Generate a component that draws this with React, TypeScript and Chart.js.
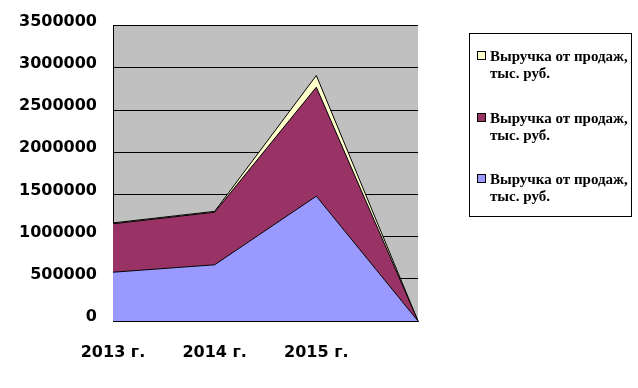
import React, { useEffect, useRef } from 'react';
import { Chart, registerables } from 'chart.js';

Chart.register(...registerables);

const categories = ['2013 г.', '2014 г.', '2015 г.', ''];
const seriesBottom = [578000, 666000, 1479000, 0];
const seriesMiddle = [574000, 623000, 1291000, 0];
const seriesTop = [10000, 10000, 139000, 0];
const seriesNames = ['Выручка от продаж, тыс. руб.', 'Выручка от продаж, тыс. руб.', 'Выручка от продаж, тыс. руб.'];
const legendLines = ['Выручка от продаж,', 'тыс. руб.'];
const yMin = 0;
const yMax = 3500000;
const yStep = 500000;

const COLORS = ['#9999FF', '#993366', '#FFFFCC'];

const bgPlugin = {
  id: 'plotBg',
  beforeDraw(chart: any) {
    const { ctx, chartArea } = chart;
    ctx.save();
    ctx.fillStyle = '#C0C0C0';
    ctx.fillRect(chartArea.left, chartArea.top, chartArea.right - chartArea.left, chartArea.bottom - chartArea.top);
    ctx.restore();
  },
};

const legendPlugin = {
  id: 'boxLegend',
  afterDraw(chart: any) {
    const ctx = chart.ctx;
    ctx.save();
    ctx.strokeStyle = '#000';
    ctx.lineWidth = 1;
    ctx.strokeRect(469.5, 33.5, 162, 183);
    const items = chart.data.datasets.slice().reverse();
    items.forEach((ds: any, i: number) => {
      const base = Math.round(61 + i * 61.5);
      ctx.fillStyle = ds.backgroundColor;
      ctx.fillRect(477.5, base - 9.5, 8, 8);
      ctx.strokeRect(477.5, base - 9.5, 8, 8);
      ctx.fillStyle = '#000';
      ctx.font = 'bold 15px "Liberation Serif"';
      ctx.textBaseline = 'alphabetic';
      ctx.textAlign = 'left';
      ctx.fillText(legendLines[0], 490, base);
      ctx.fillText(legendLines[1], 490, base + 17);
    });
    ctx.restore();
  },
};

export default function App() {
  const ref = useRef<HTMLCanvasElement | null>(null);
  useEffect(() => {
    if (!ref.current) return;
    const chart = new Chart(ref.current, {
      type: 'line',
      data: {
        labels: categories,
        datasets: [
          { label: seriesNames[0], data: seriesBottom, backgroundColor: COLORS[0], borderColor: '#000', borderWidth: 1, fill: 'origin', pointRadius: 0, tension: 0 },
          { label: seriesNames[1], data: seriesMiddle, backgroundColor: COLORS[1], borderColor: '#000', borderWidth: 1, fill: '-1', pointRadius: 0, tension: 0 },
          { label: seriesNames[2], data: seriesTop, backgroundColor: COLORS[2], borderColor: '#000', borderWidth: 1, fill: '-1', pointRadius: 0, tension: 0 },
        ],
      },
      options: {
        animation: false,
        responsive: false,
        maintainAspectRatio: false,
        layout: { padding: { left: 0, right: 220, top: 25, bottom: 0 } },
        plugins: { legend: { display: false }, tooltip: { enabled: false } },
        scales: {
          x: {
            type: 'category',
            offset: false,
            stacked: true,
            grid: { display: false },
            border: { display: true, color: '#000', width: 1 },
            ticks: {
              color: '#000',
              font: { family: '"DejaVu Sans"', weight: 'bold', size: 16 },
              padding: 14,
              maxRotation: 0,
              autoSkip: false,
            },
            afterFit(scale: any) { scale.height = 67; },
          },
          y: {
            stacked: true,
            min: yMin,
            max: yMax,
            grid: { color: '#000', lineWidth: 1, drawTicks: false },
            border: { display: true, color: '#000', width: 1 },
            ticks: {
              stepSize: yStep,
              color: '#000',
              font: { family: '"DejaVu Sans"', weight: 'bold', size: 16 },
              padding: 16,
              labelOffset: -4,
              callback: (v: any) => String(v),
            },
            afterFit(scale: any) { scale.width = 113; },
          },
        },
      },
      plugins: [bgPlugin, legendPlugin],
    } as any);
    return () => chart.destroy();
  }, []);
  return (
    <div style={{ position: 'fixed', left: 0, top: 0, width: 638, height: 388, background: '#fff' }}>
      <canvas ref={ref} width={638} height={388} style={{ width: 638, height: 388, display: 'block' }} />
    </div>
  );
}
